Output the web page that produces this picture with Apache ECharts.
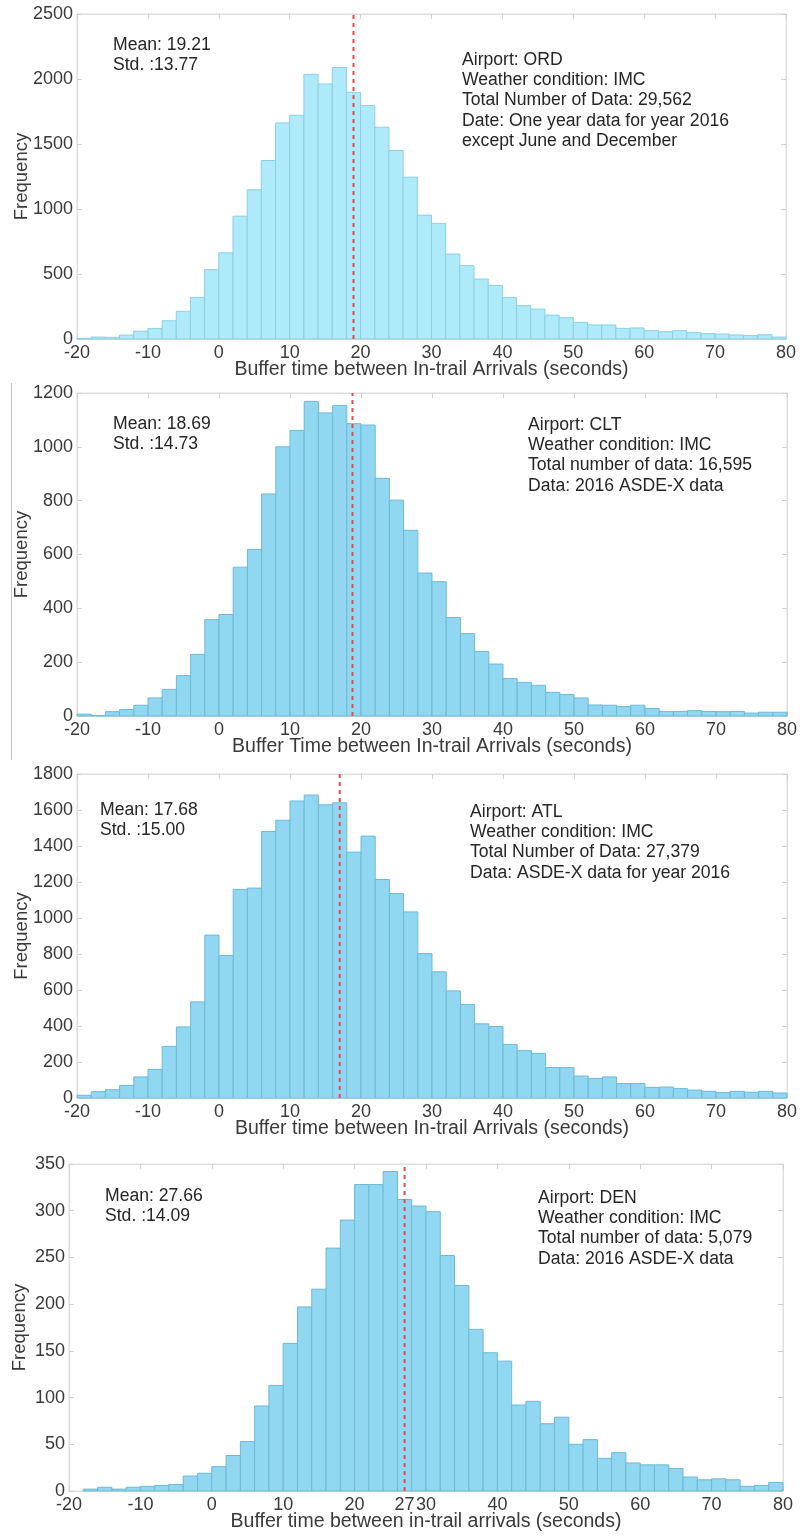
<!DOCTYPE html>
<html>
<head>
<meta charset="utf-8">
<script src="https://cdn.jsdelivr.net/npm/echarts@6/dist/echarts.min.js"></script>
<style>
html,body{margin:0;padding:0;background:#fff;}
#chart{width:802px;height:1537px;}
</style>
</head>
<body>
<div id="chart"></div>
<script>
// ---------- DATA ----------
const binStarts = [-20,-18,-16,-14,-12,-10,-8,-6,-4,-2,0,2,4,6,8,10,12,14,16,18,20,22,24,26,28,30,32,34,36,38,40,42,44,46,48,50,52,54,56,58,60,62,64,66,68,70,72,74,76,78];
const BIN_WIDTH = 2;

const ordFreq = [5,15,13,30,60,80,140,213,320,533,663,945,1148,1373,1662,1721,2036,1962,2088,1898,1796,1629,1450,1245,953,889,653,564,461,412,320,256,230,184,164,128,108,108,82,85,64,56,64,49,41,38,31,26,33,15];
const cltFreq = [7,2,16,24,40,67,99,150,229,358,377,553,619,825,1000,1061,1169,1126,1154,1086,1081,883,802,690,531,499,366,306,240,193,139,125,114,88,80,67,41,40,35,40,28,17,17,20,17,16,17,11,14,14];
const atlFreq = [15,35,46,70,117,159,287,395,534,905,792,1159,1166,1481,1543,1650,1683,1629,1640,1366,1455,1214,1136,1034,802,701,595,519,412,397,298,263,248,169,169,122,109,117,80,80,59,61,52,44,37,30,37,32,37,28];
const denFreq = [0,2,4,2,4,5,6,7,16,19,26,38,53,91,113,158,197,216,260,290,328,328,342,312,305,299,252,220,173,148,139,92,96,72,79,50,55,35,41,30,28,28,24,15,12,13,12,5,6,9];

const meanLinePos = [19, 18.8, 17, 27];
const yMaxes = [2500, 1200, 1800, 350];
const yIntervals = [500, 200, 200, 50];
const xTickLabels = [-20,-10,0,10,20,30,40,50,60,70,80];
const xTickLabelsDEN = [-20,-10,0,10,20,27,30,40,50,60,70,80];

const xTitles = [
  'Buffer time between In-trail Arrivals (seconds)',
  'Buffer Time between In-trail Arrivals (seconds)',
  'Buffer time between In-trail Arrivals (seconds)',
  'Buffer time between in-trail arrivals (seconds)'
];
const yTitle = 'Frequency';
const statTexts = [
  ['Mean: 19.21', 'Std. :13.77'],
  ['Mean: 18.69', 'Std. :14.73'],
  ['Mean: 17.68', 'Std. :15.00'],
  ['Mean: 27.66', 'Std. :14.09']
];
const infoTexts = [
  ['Airport: ORD', 'Weather condition: IMC', 'Total Number of Data: 29,562', 'Date: One year data for year 2016', 'except June and December'],
  ['Airport: CLT', 'Weather condition: IMC', 'Total number of data: 16,595', 'Data: 2016 ASDE-X data'],
  ['Airport: ATL', 'Weather condition: IMC', 'Total Number of Data: 27,379', 'Data: ASDE-X data for year 2016'],
  ['Airport: DEN', 'Weather condition: IMC', 'Total number of data: 5,079', 'Data: 2016 ASDE-X data']
];
const allFreq = [ordFreq, cltFreq, atlFreq, denFreq];

// ---------- LAYOUT / STYLE ----------
const grids = [
  {left: 77, top: 14, width: 709, height: 325},
  {left: 77, top: 393, width: 710, height: 323},
  {left: 77, top: 774, width: 710, height: 324},
  {left: 69, top: 1164, width: 714, height: 327}
];
const barFill = ['#aeeafa', '#92d7f1', '#92d7f1', '#92d7f1'];
const barStroke = ['#8ccfe2', '#6db9d6', '#6db9d6', '#6db9d6'];
const statPos = [[113, 36], [113, 415], [100, 801], [105, 1187]];
const infoPos = [[462, 51], [528, 416], [470, 803], [538, 1189]];
const yNameGaps = [46, 46, 46, 40];
const FONT = '"Liberation Sans", Arial, Helvetica, sans-serif';
const FS_TEXT = 17.6;
const FS_TICK = 18;
const FS_XNAME = 19.5;
const FS_YNAME = 18.5;
const LINE_H = 20.3;
const textColor = '#262626';
const labelColor = '#3a3a3a';
const boxColor = '#dedede';
const tickColor = '#cfcfcf';

const chart = echarts.init(document.getElementById('chart'), null, {renderer: 'canvas'});

const xAxes = [], yAxes = [], series = [], graphics = [];

grids.forEach((g, i) => {
  const isDen = i === 3;
  const labelsArr = isDen ? xTickLabelsDEN : xTickLabels;
  xAxes.push({
    type: 'value', gridIndex: i, min: -20, max: 80, interval: 10,
    name: xTitles[i], nameLocation: 'middle', nameGap: 21, nameMoveOverlap: false,
    nameTextStyle: {fontFamily: FONT, fontSize: FS_XNAME, color: labelColor},
    axisLine: {show: true, onZero: false, lineStyle: {color: boxColor}},
    axisTick: {show: true, inside: true, length: 5, lineStyle: {color: tickColor},
      customValues: labelsArr},
    axisLabel: {fontFamily: FONT, fontSize: FS_TICK, color: labelColor, margin: 5,
      customValues: labelsArr, hideOverlap: false, formatter: v => String(v)},
    splitLine: {show: false}
  });
  xAxes.push({
    type: 'value', gridIndex: i, position: 'top', min: -20, max: 80, interval: 10,
    axisLine: {show: true, onZero: false, lineStyle: {color: boxColor}},
    axisTick: {show: true, inside: true, length: 5, lineStyle: {color: tickColor}},
    axisLabel: {show: false}, splitLine: {show: false}
  });
  yAxes.push({
    type: 'value', gridIndex: i, min: 0, max: yMaxes[i], interval: yIntervals[i],
    name: yTitle, nameLocation: 'middle', nameGap: yNameGaps[i], nameRotate: 90, nameMoveOverlap: false,
    nameTextStyle: {fontFamily: FONT, fontSize: FS_YNAME, color: labelColor},
    axisLine: {show: true, onZero: false, lineStyle: {color: boxColor}},
    axisTick: {show: true, inside: true, length: 5, lineStyle: {color: tickColor}},
    axisLabel: {fontFamily: FONT, fontSize: FS_TICK, color: labelColor, margin: 4,
      formatter: v => String(v)},
    splitLine: {show: false}
  });
  yAxes.push({
    type: 'value', gridIndex: i, position: 'right', min: 0, max: yMaxes[i], interval: yIntervals[i],
    axisLine: {show: true, onZero: false, lineStyle: {color: boxColor}},
    axisTick: {show: true, inside: true, length: 5, lineStyle: {color: tickColor}},
    axisLabel: {show: false}, splitLine: {show: false}
  });

  const data = binStarts.map((b, k) => [b, allFreq[i][k]]);
  series.push({
    type: 'custom',
    xAxisIndex: i * 2, yAxisIndex: i * 2,
    data: data,
    silent: true,
    z: 2,
    renderItem: function (params, api) {
      const x0 = api.value(0), y = api.value(1);
      if (!y) return null;
      const p0 = api.coord([x0, y]);
      const p1 = api.coord([x0 + BIN_WIDTH, 0]);
      return {
        type: 'rect',
        shape: {x: p0[0], y: p0[1], width: p1[0] - p0[0], height: p1[1] - p0[1]},
        style: {fill: barFill[i], stroke: barStroke[i], lineWidth: 1}
      };
    }
  });
  series.push({
    type: 'line',
    xAxisIndex: i * 2, yAxisIndex: i * 2,
    data: [[meanLinePos[i], 0], [meanLinePos[i], yMaxes[i]]],
    symbol: 'none', silent: true, z: 5,
    lineStyle: {color: '#e8474f', width: 2, type: [4, 4]}
  });

  statTexts[i].forEach((t, k) => {
    graphics.push({type: 'text', left: statPos[i][0], top: statPos[i][1] + k * LINE_H, z: 10,
      style: {text: t, font: FS_TEXT + 'px ' + FONT, fill: textColor}});
  });
  infoTexts[i].forEach((t, k) => {
    graphics.push({type: 'text', left: infoPos[i][0], top: infoPos[i][1] + k * LINE_H, z: 10,
      style: {text: t, font: FS_TEXT + 'px ' + FONT, fill: textColor}});
  });
});

graphics.push({type: 'line', shape: {x1: 11.5, y1: 383, x2: 11.5, y2: 760},
  style: {stroke: '#c4c4c4', lineWidth: 1}});

chart.setOption({
  animation: false,
  backgroundColor: '#ffffff',
  grid: grids.map(g => Object.assign({show: true, borderColor: boxColor, borderWidth: 1,
    backgroundColor: 'transparent', containLabel: false, outerBoundsMode: 'none'}, g)),
  xAxis: xAxes,
  yAxis: yAxes,
  series: series,
  graphic: graphics
});
</script>
</body>
</html>
